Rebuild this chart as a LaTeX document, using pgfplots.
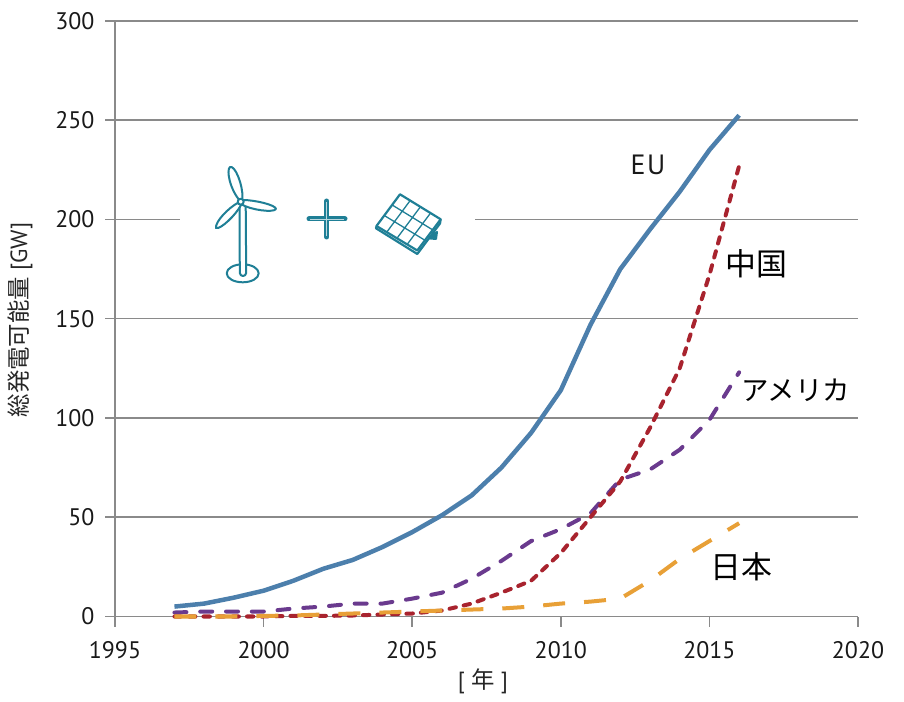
\documentclass[border=0pt]{standalone}
\usepackage{fontspec}
\setmainfont{PT Sans}
\newfontfamily\cjk{Noto Sans CJK JP}
\usepackage{pgfplots}
\pgfplotsset{compat=1.18}
\definecolor{gridc}{HTML}{8A8A8A}
\definecolor{euc}{HTML}{4C7FAC}
\definecolor{cnc}{HTML}{A8232E}
\definecolor{usc}{HTML}{6A3A8E}
\definecolor{jpc}{HTML}{E8A037}
\definecolor{teal}{HTML}{1F7F96}
\begin{document}
\begin{tikzpicture}
\useasboundingbox (-115bp,-85.5bp) rectangle (789bp,616.5bp);
\begin{axis}[
  at={(0,0)},anchor=south west,scale only axis,
  width=743bp,height=595.5bp,
  xmin=1995,xmax=2020,ymin=0,ymax=300,
  axis lines=left,axis line style={-,gridc,line width=1.5bp},
  xtick={1995,2000,2005,2010,2015,2020},
  ytick={0,50,100,150,200,250,300},
  /pgf/number format/1000 sep={},
  /pgf/number format/assume math mode=true,
  tick style={gridc,line width=1.5bp},
  tick align=outside,major tick length=10bp,
  ymajorgrids,grid style={gridc,line width=1.5bp},
  ticklabel style={font=\fontsize{24}{28}\selectfont,text=black!90},
  xticklabel style={yshift=-11bp},
  yticklabel style={xshift=-7bp},
  clip=false,
]
\addplot[euc,line width=4.5bp,line join=round] coordinates {
 (1997,5)(1998,6.5)(1999,9.5)(2000,13)(2001,18)(2002,24)(2003,28.5)(2004,35)(2005,42.5)(2006,51)
 (2007,61)(2008,75)(2009,92.5)(2010,114)(2011,147)(2012,175)(2013,195)(2014,214)(2015,235)(2016,252.5)};
\addplot[usc,line width=4bp,line cap=round,dash pattern=on 12bp off 13.8bp] coordinates {
 (1997,2)(1998,2.5)(1999,2.5)(2000,2.5)(2001,4)(2002,5)(2003,6.5)(2004,6.5)(2005,9)(2006,12)
 (2007,19)(2008,28)(2009,38)(2010,44)(2011,52)(2012,69)(2013,74)(2014,84)(2015,99)(2016,123)};
\addplot[cnc,line width=4bp,line cap=round,dash pattern=on 6.5bp off 8bp] coordinates {
 (1997,0)(1998,0)(1999,0)(2000,0)(2001,0.3)(2002,0.3)(2003,0.5)(2004,1)(2005,1.5)(2006,3)
 (2007,6.5)(2008,12)(2009,18)(2010,32)(2011,50)(2012,68)(2013,95)(2014,125)(2015,172)(2016,227)};
\addplot[jpc,line width=4bp,dash pattern=on 22bp off 19bp] coordinates {
 (1997,0)(1998,0)(1999,0)(2000,0.3)(2001,0.5)(2002,1)(2003,1.5)(2004,2)(2005,2.5)(2006,3)
 (2007,3.5)(2008,4)(2009,5)(2010,6.5)(2011,7.5)(2012,9)(2013,18)(2014,29)(2015,38)(2016,47)};
\end{axis}
\begin{scope}[x=1bp,y=-1bp,shift={(-115,-616.5)}]
\fill[white] (180,214) rectangle (475,225);
% text
\node[rotate=90,font=\fontsize{23.5}{26}\selectfont,text=black!85] at (20,320) {{\cjk 総発電可能量} [GW]};
\node[font=\fontsize{23.5}{26}\selectfont,text=black!85] at (483,681) {[ {\cjk 年} ]};
\node[font=\fontsize{28}{32}\selectfont,text=black!90] at (648,165) {E\hspace{1.5bp}U};
\node[font=\cjk\fontsize{31}{36}\selectfont] at (756,264) {中国};
\node[font=\cjk\fontsize{27.5}{32}\selectfont] at (796,390) {アメリカ};
\node[font=\cjk\fontsize{31}{36}\selectfont] at (741,567) {日本};
% turbine
\begin{scope}[teal,line width=2bp,line join=round]
\draw (242.7,273.3) ellipse (16 and 9);
\draw[fill=white] (239.5,204) -- (239.8,273) .. controls (240.5,277) and (245.5,277) .. (246.2,273) -- (245.7,204) -- cycle;
\draw[fill=white] (240.7,201.7) .. controls (230,190) and (226,170) .. (230,167) .. controls (235,165) and (243,185) .. (242.5,198) -- cycle;
\draw[fill=white] (243,200) .. controls (255,200) and (276,205) .. (276,209) .. controls (274,213) and (250,210) .. (241,204) -- cycle;
\draw[fill=white] (238.5,202.5) .. controls (228,208) and (215,222) .. (216,228) .. controls (220,230) and (236,215) .. (241,205) -- cycle;
\draw[fill=white] (240.7,201.7) circle (3);
% plus
\draw[line width=5bp,line cap=round] (309,219) -- (345,219) (326.7,201) -- (326.7,237);
\draw[teal!30,line width=0.9bp] (310,219) -- (344,219) (326.7,202) -- (326.7,236);
% panel
\draw[fill=teal] (425,238) -- (437,232) -- (436,239) -- cycle;
\draw[fill=white,line width=2.2bp] (400,194.3) -- (440.7,219.3) -- (440,223.5) -- (417.3,254) -- (376,228.3) -- (376.5,226) -- cycle;
\draw[line width=2.2bp] (376.5,226) -- (417.3,250.5) -- (440.7,219.3);
\draw[line width=1.3bp]
 (410.2,200.5) -- (386.7,232.2) (420.4,206.8) -- (396.9,238.4) (430.5,213.1) -- (407.1,244.5)
 (392.2,205) -- (432.9,230) (384.3,215.5) -- (425,240.3);
\end{scope}
\end{scope}
\end{tikzpicture}
\end{document}
